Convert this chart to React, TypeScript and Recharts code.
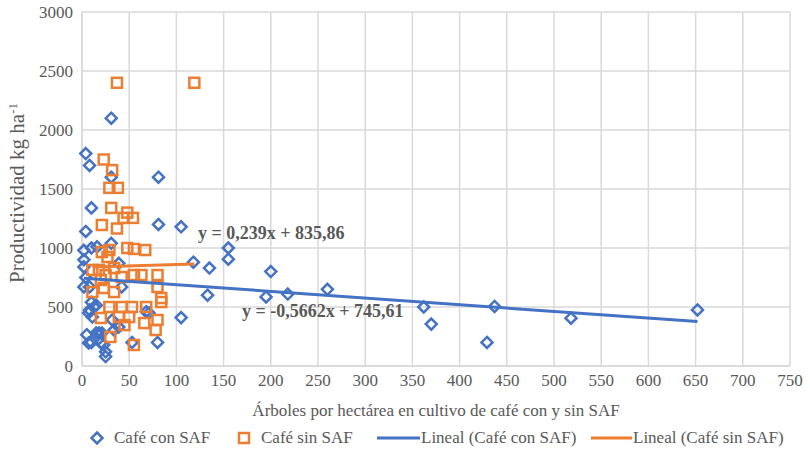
import React from 'react';
import { ScatterChart, Scatter, XAxis, YAxis, CartesianGrid, Customized } from 'recharts';

// Café con SAF: árboles por hectárea / productividad (kg/ha)
const conSafArboles = [
  4, 8, 31, 31, 81, 10, 4, 81, 105, 2, 10, 16, 31, 2, 2, 39, 4, 8, 2, 42,
  10, 8, 15, 11, 5, 10, 18, 23, 25, 25, 32, 53, 80, 105, 68, 13, 7, 15, 21, 7,
  20, 34, 39, 71, 133, 118, 135, 155, 155, 200, 195, 218, 260, 362, 370, 437, 429, 518, 652,
];
const conSafProd = [
  1800, 1700, 2100, 1600, 1600, 1340, 1140, 1200, 1180, 980, 1000, 1010, 1040, 900, 840, 870, 750, 670, 670, 670,
  540, 475, 515, 415, 265, 200, 280, 180, 120, 80, 390, 200, 200, 410, 460, 500, 450, 280, 280, 195,
  195, 305, 330, 450, 600, 880, 830, 1000, 905, 800, 585, 610, 650, 500, 355, 505, 200, 405, 475,
];

// Café sin SAF
const sinSafArboles = [
  37, 119, 23, 32, 29, 38, 31, 48, 54, 44, 21, 37, 21, 29, 48, 55, 67, 27, 34, 11,
  18, 25, 42, 55, 63, 80, 20, 80, 11, 23, 34, 84, 29, 42, 53, 68, 84, 20, 39, 50,
  66, 45, 80, 78, 30, 55,
];
const sinSafProd = [
  2400, 2400, 1750, 1660, 1510, 1510, 1340, 1300, 1255, 1255, 1195, 1165, 966, 983, 1000, 992, 983, 924, 830, 814,
  814, 771, 754, 771, 771, 771, 729, 669, 627, 661, 627, 576, 500, 500, 500, 500, 542, 407, 415, 415,
  364, 347, 390, 305, 246, 178,
];

const xTicks = [0, 50, 100, 150, 200, 250, 300, 350, 400, 450, 500, 550, 600, 650, 700, 750];
const yTicks = [0, 500, 1000, 1500, 2000, 2500, 3000];

// líneas de tendencia (ecuaciones del gráfico)
const tendConSaf = { m: -0.5662, b: 745.61, label: 'y = -0,5662x + 745,61' };
const tendSinSaf = { m: 0.239, b: 835.86, label: 'y = 0,239x + 835,86' };

const BLUE = '#4472C4';
const ORANGE = '#ED7D31';
const GRAY = '#595959';
const FONT = "'Times New Roman', 'Liberation Serif', 'DejaVu Serif', serif";
const ff = { fontFamily: FONT };

const toPoints = (xs: number[], ys: number[]) => xs.map((x, i) => ({ x, y: ys[i] }));
const trend = (xs: number[], t: { m: number; b: number }) => {
  const lo = Math.min(...xs);
  const hi = Math.max(...xs);
  return [
    { x: lo, y: t.m * lo + t.b },
    { x: hi, y: t.m * hi + t.b },
  ];
};

const Diamond = (props: any) => {
  const { cx, cy } = props;
  const r = 5.5;
  return (
    <path
      d={`M${cx},${cy - r}L${cx + r},${cy}L${cx},${cy + r}L${cx - r},${cy}Z`}
      fill="none"
      stroke={BLUE}
      strokeWidth={2.5}
    />
  );
};

const Square = (props: any) => {
  const { cx, cy } = props;
  return <rect x={cx - 5} y={cy - 5} width={10} height={10} fill="none" stroke={ORANGE} strokeWidth={2.5} />;
};

const NoShape = () => <g />;

const XTick = (props: any) => (
  <text x={props.x} y={props.y + 12} textAnchor="middle" fontSize={17} fill={GRAY} style={ff}>
    {props.payload.value}
  </text>
);

const YTick = (props: any) => (
  <text x={props.x - 1} y={props.y + 6} textAnchor="end" fontSize={17} fill={GRAY} style={ff}>
    {props.payload.value}
  </text>
);

const Annotations = () => (
  <g>
    <text x={198} y={239} fontSize={18} fontWeight="bold" fill={GRAY} style={ff}>{tendSinSaf.label}</text>
    <text x={242} y={317} fontSize={18} fontWeight="bold" fill={GRAY} style={ff}>{tendConSaf.label}</text>
    <text x={436} y={416} fontSize={17} fill={GRAY} textAnchor="middle" style={ff}>
      Árboles por hectárea en cultivo de café con y sin SAF
    </text>
    <text x={24} y={193} fontSize={21} fill={GRAY} textAnchor="middle" transform="rotate(-90 24 193)" style={ff}>
      Productividad kg ha<tspan fontSize={13} dy={-7} style={ff}>-1</tspan>
    </text>
  </g>
);

const legendText: React.CSSProperties = {
  position: 'absolute',
  top: 0,
  fontFamily: FONT,
  fontSize: 17,
  lineHeight: '20px',
  color: GRAY,
  whiteSpace: 'nowrap',
};

// posiciones de la leyenda (px)
const Leyenda = () => (
  <div style={{ position: 'absolute', left: 0, top: 428, width: 810, height: 20 }}>
    <svg width={810} height={20} style={{ position: 'absolute', left: 0, top: 0 }}>
      <path d="M97,4.5L102.5,10L97,15.5L91.5,10Z" fill="none" stroke={BLUE} strokeWidth={2.5} />
      <rect x={239} y={5} width={10} height={10} fill="none" stroke={ORANGE} strokeWidth={2.5} />
      <line x1={377} y1={10} x2={420} y2={10} stroke={BLUE} strokeWidth={3} />
      <line x1={591} y1={10} x2={632} y2={10} stroke={ORANGE} strokeWidth={3} />
    </svg>
    <span style={{ ...legendText, left: 114 }}>Café con SAF</span>
    <span style={{ ...legendText, left: 261 }}>Café sin SAF</span>
    <span style={{ ...legendText, left: 421 }}>Lineal (Café con SAF)</span>
    <span style={{ ...legendText, left: 633 }}>Lineal (Café sin SAF)</span>
  </div>
);

export default function App() {
  const conSaf = toPoints(conSafArboles, conSafProd);
  const sinSaf = toPoints(sinSafArboles, sinSafProd);

  return (
    <div style={{ position: 'absolute', left: 0, top: 0, width: 810, height: 452, background: '#fff', overflow: 'hidden' }}>
      <ScatterChart width={810} height={452} margin={{ top: 12, right: 20, bottom: 56, left: 32 }}>
        <CartesianGrid stroke="#d9d9d9" strokeWidth={1.5} />
        <XAxis
          type="number"
          dataKey="x"
          domain={[0, 750]}
          ticks={xTicks}
          interval={0}
          height={30}
          tickLine={false}
          axisLine={{ stroke: '#d9d9d9', strokeWidth: 1.5 }}
          tick={<XTick />}
        />
        <YAxis
          type="number"
          dataKey="y"
          domain={[0, 3000]}
          ticks={yTicks}
          interval={0}
          width={50}
          tickLine={false}
          axisLine={{ stroke: '#d9d9d9', strokeWidth: 1.5 }}
          tick={<YTick />}
        />
        <Scatter data={conSaf} shape={<Diamond />} isAnimationActive={false} />
        <Scatter data={sinSaf} shape={<Square />} isAnimationActive={false} />
        <Scatter
          data={trend(conSafArboles, tendConSaf)}
          line={{ stroke: BLUE, strokeWidth: 3 }}
          shape={<NoShape />}
          legendType="none"
          isAnimationActive={false}
        />
        <Scatter
          data={trend(sinSafArboles, tendSinSaf)}
          line={{ stroke: ORANGE, strokeWidth: 3 }}
          shape={<NoShape />}
          legendType="none"
          isAnimationActive={false}
        />
        <Customized component={Annotations} />
      </ScatterChart>
      <Leyenda />
    </div>
  );
}
